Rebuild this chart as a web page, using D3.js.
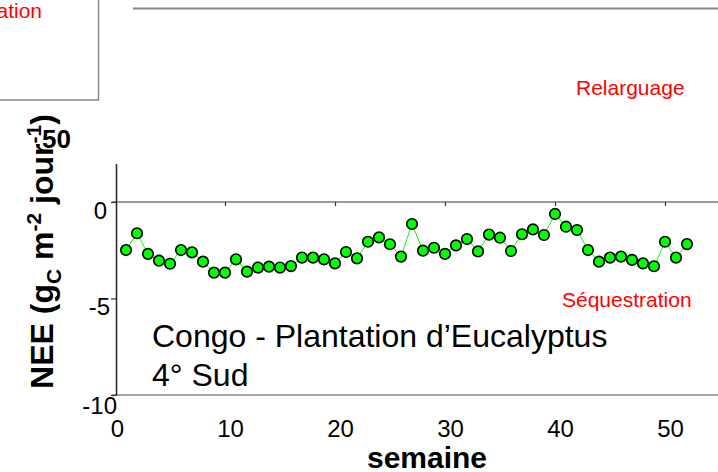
<!DOCTYPE html>
<html>
<head>
<meta charset="utf-8">
<script src="https://cdn.jsdelivr.net/npm/d3@7"></script>
<style>
  body { margin: 0; background: #fff; }
  svg { display: block; font-family: "Liberation Sans", Arial, sans-serif; }
</style>
</head>
<body>
<svg id="chart"></svg>
<script>
// semaine (week number)
const weeks = [1, 2, 3, 4, 5, 6, 7, 8, 9, 10, 11, 12, 13, 14, 15, 16, 17, 18, 19, 20,
  21, 22, 23, 24, 25, 26, 27, 28, 29, 30, 31, 32, 33, 34, 35, 36, 37, 38, 39, 40,
  41, 42, 43, 44, 45, 46, 47, 48, 49, 50, 51, 52];

// NEE (gC m-2 jour-1)
const nee = [-2.49, -1.62, -2.69, -3.04, -3.20, -2.49, -2.61, -3.09, -3.66, -3.66,
  -2.97, -3.61, -3.40, -3.35, -3.40, -3.32, -2.88, -2.88, -2.97, -3.18,
  -2.59, -2.92, -2.06, -1.83, -2.19, -2.83, -1.14, -2.52, -2.37, -2.69,
  -2.25, -1.92, -2.56, -1.69, -1.85, -2.54, -1.67, -1.42, -1.71, -0.62,
  -1.28, -1.45, -2.49, -3.09, -2.88, -2.83, -3.00, -3.18, -3.33, -2.06,
  -2.88, -2.18];

const xTicks = [0, 10, 20, 30, 40, 50];
const yTicks = [0, -5, -10];

const width = 718, height = 472;
const font = "'Liberation Sans', Arial, sans-serif";

const svg = d3.select("#chart")
  .attr("width", width)
  .attr("height", height);

const data = weeks.map((w, i) => ({ week: w, value: nee[i] }));

// scales
const x = d3.scaleLinear().domain([0, 55]).range([115, 720]);
const y = d3.scaleLinear().domain([-10, 2]).range([395, 163.4]);

// bits of neighbouring panels that were cropped in
svg.append("rect")
  .attr("x", -4).attr("y", -4)
  .attr("width", 102.5).attr("height", 104)
  .attr("fill", "none")
  .attr("stroke", "#888")
  .attr("stroke-width", 1.5);

svg.append("text")
  .attr("x", 42).attr("y", 18)
  .attr("text-anchor", "end")
  .attr("fill", "#ff0000")
  .style("font-size", "21px")
  .text("Séquestration");

svg.append("line")
  .attr("x1", 133).attr("x2", width)
  .attr("y1", 8.5).attr("y2", 8.5)
  .attr("stroke", "#888")
  .attr("stroke-width", 2);

svg.append("text")
  .attr("x", 576).attr("y", 95)
  .attr("fill", "#ff0000")
  .style("font-size", "21px")
  .text("Relarguage");

// zero line and bottom line
svg.append("line")
  .attr("x1", 112).attr("x2", width)
  .attr("y1", y(0)).attr("y2", y(0))
  .attr("stroke", "#777")
  .attr("stroke-width", 1.5);

svg.append("line")
  .attr("x1", 112).attr("x2", width)
  .attr("y1", y(-10)).attr("y2", y(-10))
  .attr("stroke", "#888")
  .attr("stroke-width", 1.5);

// x tick marks on the zero line
svg.append("g")
  .attr("transform", `translate(0,${y(0)})`)
  .call(d3.axisBottom(x).tickValues(xTicks.filter(d => d > 0)).tickSize(4).tickFormat(""))
  .call(g => g.select(".domain").remove())
  .selectAll(".tick line")
  .attr("stroke", "#333")
  .attr("stroke-width", 1.2);

// x tick labels under the plot
svg.append("g")
  .attr("transform", `translate(0,${y(-10)})`)
  .call(d3.axisBottom(x).tickValues(xTicks).tickSize(0).tickFormat(d => String(d)))
  .call(g => g.select(".domain").remove())
  .selectAll("text")
  .attr("y", 42)
  .attr("dy", 0)
  .attr("dx", d => d > 0 ? 5 : 2)
  .attr("fill", "#000")
  .style("font-family", font)
  .style("font-size", "24px");

// y axis
const yAxis = svg.append("g")
  .attr("transform", "translate(116,0)")
  .call(d3.axisLeft(y).tickValues(yTicks).tickSize(5).tickSizeOuter(0).tickFormat(d => String(d)));

yAxis.select(".domain")
  .attr("stroke", "#222")
  .attr("stroke-width", 1.5);
yAxis.selectAll(".tick line")
  .attr("stroke", "#333")
  .attr("stroke-width", 1.2);
yAxis.selectAll("text")
  .attr("x", d => d === 0 ? -9 : d === -5 ? -6 : 1)
  .attr("dy", d => d === -10 ? 18 : 16)
  .attr("fill", "#000")
  .style("font-family", font)
  .style("font-size", "24px");

// y label
const yLabel = svg.append("text")
  .attr("transform", "translate(53,251.5) rotate(-90)")
  .attr("text-anchor", "middle")
  .attr("fill", "#000")
  .style("font-weight", "bold")
  .style("font-size", "32px");
yLabel.append("tspan").text("NEE (g");
yLabel.append("tspan").attr("dy", 8).style("font-size", "21px").text("C");
yLabel.append("tspan").attr("dy", -8).text(" m");
yLabel.append("tspan").attr("dy", -12).style("font-size", "21px").text("-2");
yLabel.append("tspan").attr("dy", 12).text(" jour");
yLabel.append("tspan").attr("dy", -12).style("font-size", "21px").text("-1");
yLabel.append("tspan").attr("dy", 12).text(")");

svg.append("text")
  .attr("x", 42).attr("y", 148)
  .attr("fill", "#000")
  .style("font-weight", "bold")
  .style("font-size", "26px")
  .text("50");

// x label
svg.append("text")
  .attr("x", 427).attr("y", 468)
  .attr("text-anchor", "middle")
  .attr("fill", "#000")
  .style("font-weight", "bold")
  .style("font-size", "30px")
  .text("semaine");

// annotations
svg.append("text")
  .attr("x", 562).attr("y", 306.5)
  .attr("fill", "#ff0000")
  .style("font-size", "21px")
  .text("Séquestration");

const site = svg.append("text")
  .attr("fill", "#000")
  .style("font-size", "32px");
site.append("tspan").attr("x", 152).attr("y", 347).text("Congo - Plantation d\u2019Eucalyptus");
site.append("tspan").attr("x", 152).attr("y", 386).text("4° Sud");

// series
svg.append("path")
  .datum(data)
  .attr("fill", "none")
  .attr("stroke", "#00ff00")
  .attr("stroke-width", 1)
  .attr("d", d3.line().x(d => x(d.week)).y(d => y(d.value)));

svg.selectAll(".pt")
  .data(data)
  .enter()
  .append("circle")
  .attr("class", "pt")
  .attr("cx", d => x(d.week))
  .attr("cy", d => y(d.value))
  .attr("r", 5.3)
  .attr("fill", "#00ff00")
  .attr("stroke", "#000")
  .attr("stroke-width", 1.6);
</script>
</body>
</html>
